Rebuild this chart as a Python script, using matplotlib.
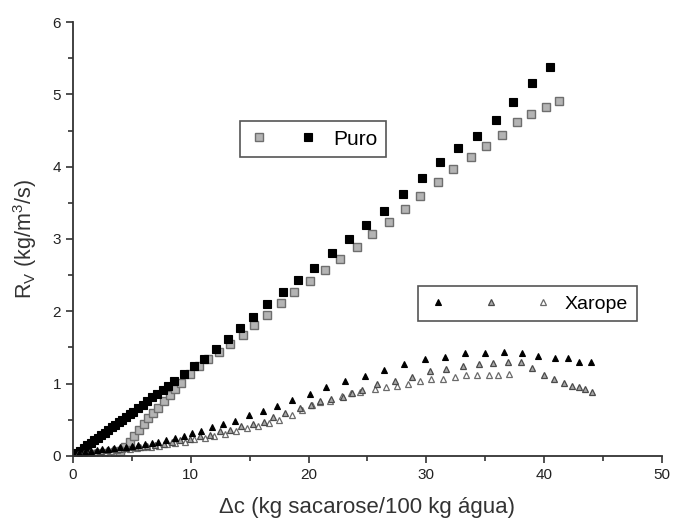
import matplotlib
matplotlib.use('Agg')
import matplotlib.pyplot as plt
from matplotlib.legend_handler import HandlerTuple
from matplotlib.ticker import MultipleLocator

plt.rcParams['font.family'] = ['Liberation Sans', 'DejaVu Sans']
plt.rcParams['mathtext.fontset'] = 'custom'
plt.rcParams['mathtext.rm'] = 'Liberation Sans'
plt.rcParams['mathtext.it'] = 'Liberation Sans'

# Puro - black squares
puro_black_x = [0.3, 0.6, 0.9, 1.2, 1.5, 1.8, 2.1, 2.4, 2.7, 3.0, 3.3, 3.6, 3.9, 4.2, 4.5,
                4.8, 5.1, 5.5, 5.9, 6.3, 6.7, 7.1, 7.6, 8.1, 8.6, 9.4, 10.3, 11.1, 12.1, 13.2,
                14.2, 15.3, 16.5, 17.8, 19.1, 20.5, 22.0, 23.4, 24.9, 26.4, 28.0, 29.6, 31.2,
                32.7, 34.3, 35.9, 37.4, 39.0, 40.5]
puro_black_y = [0.04, 0.07, 0.11, 0.15, 0.18, 0.22, 0.25, 0.29, 0.32, 0.36, 0.40, 0.43, 0.47,
                0.50, 0.54, 0.58, 0.61, 0.66, 0.71, 0.76, 0.81, 0.86, 0.91, 0.97, 1.03, 1.13,
                1.24, 1.34, 1.48, 1.62, 1.77, 1.92, 2.10, 2.27, 2.43, 2.60, 2.80, 3.00, 3.20,
                3.39, 3.62, 3.84, 4.07, 4.26, 4.43, 4.65, 4.90, 5.16, 5.38]

# Puro - gray squares
puro_gray_x = [0.4, 0.8, 1.2, 1.6, 2.0, 2.4, 2.8, 3.2, 3.6, 4.0, 4.4, 4.8, 5.2, 5.6, 6.0,
               6.4, 6.8, 7.2, 7.7, 8.2, 8.7, 9.2, 9.9, 10.7, 11.5, 12.4, 13.3, 14.4, 15.4,
               16.5, 17.7, 18.8, 20.1, 21.4, 22.7, 24.1, 25.4, 26.8, 28.2, 29.5, 31.0, 32.3,
               33.8, 35.1, 36.4, 37.7, 38.9, 40.2, 41.3]
puro_gray_y = [0.02, 0.02, 0.02, 0.03, 0.03, 0.03, 0.04, 0.04, 0.05, 0.07, 0.12, 0.20, 0.28,
               0.36, 0.44, 0.52, 0.60, 0.67, 0.76, 0.85, 0.93, 1.01, 1.13, 1.24, 1.34, 1.44,
               1.55, 1.67, 1.81, 1.95, 2.11, 2.27, 2.42, 2.57, 2.72, 2.89, 3.07, 3.24, 3.41,
               3.60, 3.79, 3.97, 4.13, 4.29, 4.44, 4.62, 4.73, 4.82, 4.91]

# Xarope - black triangles
xar_black_x = [0.5, 1.0, 1.5, 2.0, 2.5, 3.0, 3.5, 4.0, 4.5, 5.0, 5.5, 6.1, 6.7, 7.2, 7.9,
               8.7, 9.4, 10.1, 10.9, 11.8, 12.7, 13.75, 14.9, 16.1, 17.3, 18.6, 20.1, 21.5,
               23.1, 24.8, 26.4, 28.1, 29.9, 31.6, 33.3, 35.0, 36.6, 38.1, 39.5, 40.9, 42.0,
               43.0, 44.0]
xar_black_y = [0.04, 0.06, 0.07, 0.08, 0.09, 0.10, 0.11, 0.12, 0.13, 0.14, 0.15, 0.16, 0.18,
               0.20, 0.22, 0.25, 0.28, 0.32, 0.35, 0.40, 0.44, 0.48, 0.56, 0.62, 0.69, 0.77,
               0.86, 0.95, 1.03, 1.11, 1.19, 1.27, 1.34, 1.37, 1.43, 1.43, 1.44, 1.43, 1.38,
               1.36, 1.35, 1.30, 1.30]

# Xarope - gray triangles
xar_gray_x = [0.4, 0.9, 1.4, 1.9, 2.4, 2.9, 3.4, 3.9, 4.5, 5.1, 5.7, 6.3, 7.0, 7.7, 8.4,
              9.1, 9.9, 10.8, 11.6, 12.5, 13.3, 14.3, 15.3, 16.2, 17.0, 18.0, 19.3, 20.2,
              21.0, 21.9, 22.9, 23.7, 24.5, 25.8, 27.3, 28.8, 30.3, 31.7, 33.1, 34.5, 35.7,
              36.9, 38.0, 39.0, 39.95, 40.8, 41.7, 42.4, 43.0, 43.5, 44.1]
xar_gray_y = [0.03, 0.04, 0.05, 0.06, 0.07, 0.08, 0.09, 0.10, 0.11, 0.12, 0.13, 0.14, 0.15,
              0.17, 0.19, 0.22, 0.24, 0.27, 0.29, 0.34, 0.36, 0.41, 0.44, 0.47, 0.54, 0.59,
              0.66, 0.71, 0.76, 0.79, 0.82, 0.87, 0.91, 0.99, 1.04, 1.09, 1.17, 1.20, 1.24,
              1.27, 1.29, 1.30, 1.30, 1.21, 1.12, 1.06, 1.01, 0.97, 0.95, 0.93, 0.88]

# Xarope - open triangles
xar_open_x = [0.6, 1.1, 1.6, 2.2, 2.7, 3.2, 3.7, 4.2, 4.8, 5.4, 6.0, 6.6, 7.3, 8.0, 8.7,
              9.5, 10.3, 11.2, 12.0, 12.9, 13.8, 14.8, 15.7, 16.6, 17.5, 18.6, 19.4, 20.3,
              21.0, 21.8, 22.8, 23.6, 24.4, 25.6, 26.6, 27.5, 28.4, 29.5, 30.4, 31.4, 32.4,
              33.4, 34.3, 35.3, 36.1, 37.0]
xar_open_y = [0.02, 0.03, 0.04, 0.05, 0.06, 0.07, 0.08, 0.09, 0.10, 0.11, 0.12, 0.13, 0.14,
              0.16, 0.18, 0.20, 0.23, 0.25, 0.28, 0.31, 0.34, 0.38, 0.42, 0.45, 0.50, 0.57,
              0.63, 0.70, 0.75, 0.76, 0.83, 0.87, 0.88, 0.92, 0.95, 0.97, 0.99, 1.03, 1.07,
              1.07, 1.09, 1.12, 1.12, 1.12, 1.12, 1.13]

fig = plt.figure(figsize=(6.73, 5.24), dpi=100)
ax = fig.add_axes([0.1085, 0.1298, 0.875, 0.8282])

sq = 6.0
tr = 4.8
h_pg, = ax.plot(puro_gray_x, puro_gray_y, 's', ms=sq, mfc='#b4b4b4', mec='#6e6e6e', mew=1.0, ls='none')
h_pb, = ax.plot(puro_black_x, puro_black_y, 's', ms=sq, mfc='black', mec='black', mew=0.8, ls='none')
h_xo, = ax.plot(xar_open_x, xar_open_y, '^', ms=tr, mfc='white', mec='#6a6a6a', mew=0.9, ls='none')
h_xg, = ax.plot(xar_gray_x, xar_gray_y, '^', ms=tr, mfc='#a8a8a8', mec='#4a4a4a', mew=0.9, ls='none')
h_xb, = ax.plot(xar_black_x, xar_black_y, '^', ms=tr, mfc='black', mec='black', mew=0.8, ls='none')

ax.set_xlim(0, 50)
ax.set_ylim(0, 6)
ax.xaxis.set_major_locator(MultipleLocator(10))
ax.xaxis.set_minor_locator(MultipleLocator(5))
ax.yaxis.set_major_locator(MultipleLocator(1))
ax.yaxis.set_minor_locator(MultipleLocator(0.5))
for s in ['top', 'right']:
    ax.spines[s].set_visible(False)
for s in ['left', 'bottom']:
    ax.spines[s].set_linewidth(1.3)
    ax.spines[s].set_color('#333333')
ax.tick_params(which='major', direction='out', length=5, width=1.2, colors='#333333',
               labelsize=11, labelcolor='#222222')
ax.tick_params(which='minor', direction='out', length=3.5, width=1.2, colors='#333333')

ax.set_xlabel('\u0394c (kg sacarose/100 kg \u00e1gua)', fontsize=16, color='#333333', labelpad=11)
ax.set_ylabel(r'R$_\mathregular{V}$ (kg/m$^\mathregular{3}$/s)', fontsize=15.5, color='#333333', labelpad=10)

leg1 = ax.legend([(h_pg, h_pb)], ['Puro'],
                 handler_map={tuple: HandlerTuple(ndivide=None, pad=1.3)},
                 loc='lower left', bbox_to_anchor=(0.2835, 0.689), borderaxespad=0,
                 handlelength=3.4, fontsize=15, fancybox=False, framealpha=1,
                 edgecolor='#555555', borderpad=0.4, handletextpad=0.7)
leg1.get_frame().set_linewidth(1.2)
ax.add_artist(leg1)

leg2 = ax.legend([(h_xb, h_xg, h_xo)], ['Xarope'],
                 handler_map={tuple: HandlerTuple(ndivide=None, pad=1.5)},
                 loc='lower left', bbox_to_anchor=(0.5857, 0.310), borderaxespad=0,
                 handlelength=6.6, fontsize=14, fancybox=False, framealpha=1,
                 edgecolor='#555555', borderpad=0.45, handletextpad=0.5)
leg2.get_frame().set_linewidth(1.2)

fig.savefig('out.png', dpi=100)
